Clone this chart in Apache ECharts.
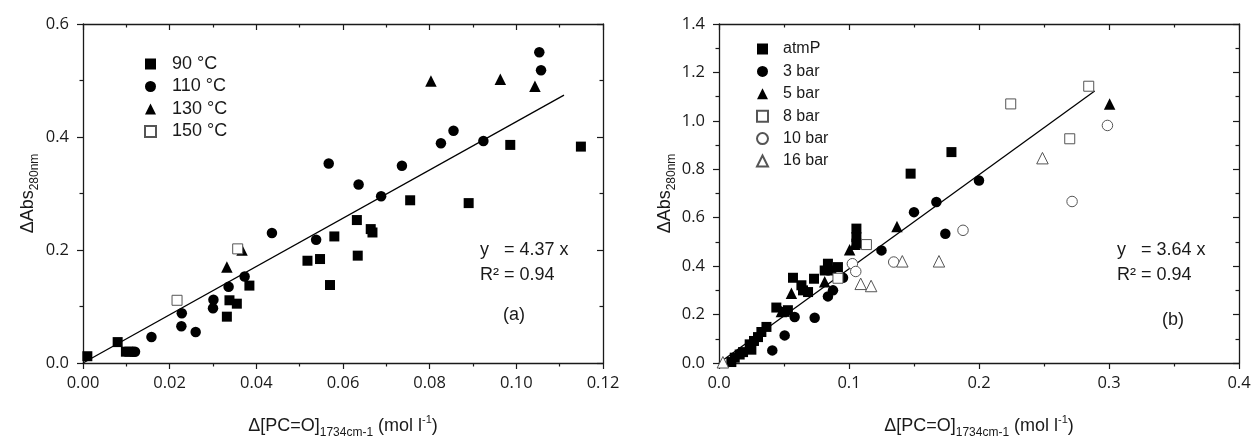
<!DOCTYPE html>
<html>
<head>
<meta charset="utf-8">
<script src="https://cdn.jsdelivr.net/npm/echarts@6/dist/echarts.min.js"></script>
<style>
html,body{margin:0;padding:0;background:#fff;}
#c{width:1252px;height:436px;}
</style>
</head>
<body>
<div id="c"></div>
<script>
// ---------- Panel (a) data: [x, y] ----------
const a90 = [[0.001,0.012],[0.008,0.037],[0.0099,0.020],[0.0107,0.020],[0.0332,0.082],[0.0338,0.111],[0.0355,0.105],[0.0384,0.137],[0.0518,0.181],[0.0547,0.184],[0.0570,0.138],[0.0580,0.224],[0.0632,0.253],[0.0634,0.190],[0.0664,0.237],[0.0668,0.231],[0.0755,0.288],[0.0890,0.283],[0.0986,0.386],[0.1149,0.383]];
const a110 = [[0.0114,0.020],[0.0120,0.020],[0.0158,0.046],[0.0227,0.065],[0.0228,0.088],[0.0260,0.055],[0.0300,0.097],[0.0301,0.112],[0.0336,0.135],[0.0373,0.153],[0.0436,0.230],[0.0538,0.218],[0.0567,0.353],[0.0636,0.316],[0.0688,0.295],[0.0736,0.349],[0.0826,0.389],[0.0855,0.411],[0.0924,0.393],[0.1053,0.550],[0.1057,0.518]];
const a130 = [[0.0332,0.170],[0.0367,0.200],[0.0803,0.499],[0.0963,0.502],[0.1043,0.490]];
const a150 = [[0.0217,0.111],[0.0357,0.202]];
const aFit = [[0.0,0.0],[0.111,0.474]];
const aNames = ['90 °C','110 °C','130 °C','150 °C'];

// ---------- Panel (b) data: [x, y] ----------
const bAtm = [[0.0095,0.004],[0.0121,0.022],[0.0159,0.035],[0.0185,0.045],[0.0249,0.055],[0.0236,0.077],[0.0269,0.091],[0.0300,0.107],[0.0326,0.128],[0.0365,0.149],[0.0441,0.229],[0.0505,0.211],[0.0530,0.218],[0.0569,0.352],[0.0634,0.321],[0.0646,0.300],[0.0685,0.293],[0.0731,0.348],[0.0813,0.382],[0.0838,0.410],[0.0864,0.382],[0.0915,0.396],[0.1057,0.555],[0.1057,0.520],[0.1057,0.493],[0.1474,0.782],[0.1788,0.871]];
const b3 = [[0.0410,0.052],[0.0505,0.114],[0.0582,0.190],[0.0736,0.187],[0.0838,0.275],[0.0877,0.300],[0.0954,0.352],[0.1250,0.465],[0.1500,0.623],[0.1672,0.665],[0.1741,0.534],[0.2000,0.754]];
const b5 = [[0.0480,0.213],[0.0557,0.288],[0.0813,0.336],[0.1005,0.468],[0.1045,0.490],[0.1369,0.564],[0.3005,1.070]];
const b8 = [[0.0915,0.350],[0.1134,0.489],[0.2244,1.070],[0.2698,0.926],[0.2844,1.143]];
const b10 = [[0.1026,0.410],[0.1052,0.378],[0.1344,0.417],[0.1877,0.548],[0.2716,0.667],[0.2988,0.981]];
const b16 = [[0.0030,0.003],[0.1090,0.327],[0.1170,0.318],[0.1410,0.420],[0.1692,0.420],[0.2488,0.846]];
const bFit = [[0.0,0.0],[0.289,1.123]];
const bNames = ['atmP','3 bar','5 bar','8 bar','10 bar','16 bar'];

// ---------- Axis ranges / ticks ----------
const aX = {min:0, max:0.12, interval:0.02, digits:2};
const aY = {min:0, max:0.6, interval:0.2, digits:1};
const bX = {min:0, max:0.4, interval:0.1, digits:1};
const bY = {min:0, max:1.4, interval:0.2, digits:1};

const annA = ['y   = 4.37 x','R² = 0.94','(a)'];
const annB = ['y   = 3.64 x','R² = 0.94','(b)'];
const xTitle = '{a|Δ[PC=O]}{s|1734cm-1}{a| (mol l}{p|-1}{a|)}';
const yTitle = '{a|ΔAbs}{s|280nm}';

const INK = '#1a1a1a';
const FONT = 'Liberation Sans, Arial, sans-serif';
const TICKFONT = 'Open Sans, Liberation Sans, sans-serif';

const nameRich = {
  a:{fontSize:18, fontFamily:FONT, color:INK},
  s:{fontSize:12, fontFamily:FONT, color:INK, padding:[14,0,0,0]},
  p:{fontSize:11, fontFamily:FONT, color:INK, padding:[0,0,12,0]}
};

function mainAxis(r, grid, pos, isX, name, gap) {
  return {
    type:'value', gridIndex:grid, position:pos,
    min:r.min, max:r.max, interval:r.interval,
    axisLine:{show:true, onZero:false, lineStyle:{color:INK, width:1.3}},
    axisTick:{show:true, inside:false, length:6, lineStyle:{color:INK, width:1.2}},
    minorTick:{show:true, splitNumber:2, length:3.5, lineStyle:{color:INK, width:1.2}},
    splitLine:{show:false}, minorSplitLine:{show:false},
    axisLabel:{show:true, color:INK, fontSize:16.5, fontFamily:TICKFONT, margin:isX?12:14,
      formatter:v=>v.toFixed(r.digits)},
    name:name, nameLocation:'middle', nameGap:gap, nameRotate:isX?0:90,
    nameTextStyle:{rich:nameRich}
  };
}
function mirrorAxis(r, grid, pos) {
  return {
    type:'value', gridIndex:grid, position:pos,
    min:r.min, max:r.max, interval:r.interval,
    axisLine:{show:true, onZero:false, lineStyle:{color:INK, width:1.3}},
    axisTick:{show:true, inside:true, length:6, lineStyle:{color:INK, width:1.2}},
    minorTick:{show:true, splitNumber:2, length:3.5, lineStyle:{color:INK, width:1.2}},
    splitLine:{show:false}, minorSplitLine:{show:false},
    axisLabel:{show:false}
  };
}

function scatter(name, data, xi, yi, symbol, filled) {
  return {
    type:'scatter', name:name, data:data, xAxisIndex:xi, yAxisIndex:yi,
    symbol:symbol, symbolSize: symbol==='triangle'?11.5:(symbol==='rect'?10:10.5),
    itemStyle: filled ? {color:'#000', borderWidth:0, opacity:1}
                      : {color:'#fff', borderColor:'#555', borderWidth:1, opacity:1},
    emphasis:{disabled:true}, z:3
  };
}
function fitLine(data, xi, yi) {
  return {type:'line', data:data, xAxisIndex:xi, yAxisIndex:yi, showSymbol:false, symbol:'none',
    lineStyle:{color:'#000', width:1.3}, emphasis:{disabled:true}, z:2, silent:true};
}

function annText(lines, x0, y0) {
  return [
    {type:'text', left:x0, top:y0, style:{text:lines[0], font:'18px '+FONT, fill:INK}},
    {type:'text', left:x0, top:y0+25, style:{text:lines[1], font:'18px '+FONT, fill:INK}}
  ];
}

const option = {
  animation:false,
  backgroundColor:'#fff',
  grid:[
    {left:83, top:24, width:520, height:339, containLabel:false, outerBoundsMode:'none'},
    {left:719, top:24, width:520, height:339, containLabel:false, outerBoundsMode:'none'}
  ],
  xAxis:[
    mainAxis(aX,0,'bottom',true,xTitle,50),
    mirrorAxis(aX,0,'top'),
    mainAxis(bX,1,'bottom',true,xTitle,50),
    mirrorAxis(bX,1,'top')
  ],
  yAxis:[
    mainAxis(aY,0,'left',false,yTitle,42),
    mirrorAxis(aY,0,'right'),
    mainAxis(bY,1,'left',false,yTitle,37),
    mirrorAxis(bY,1,'right')
  ],
  legend:[
    {data:aNames, orient:'vertical', left:139, top:50, itemWidth:11, itemHeight:11, itemGap:4.5,
      textStyle:{fontSize:18, fontFamily:FONT, color:INK, padding:[0,0,0,11]}, selectedMode:false},
    {data:bNames, orient:'vertical', left:751, top:36, itemWidth:11, itemHeight:11, itemGap:6.4,
      textStyle:{fontSize:16, fontFamily:FONT, color:INK, padding:[0,0,0,10]}, selectedMode:false}
  ],
  series:[
    fitLine(aFit,0,0),
    scatter(aNames[0],a90,0,0,'rect',true),
    scatter(aNames[1],a110,0,0,'circle',true),
    scatter(aNames[2],a130,0,0,'triangle',true),
    scatter(aNames[3],a150,0,0,'rect',false),
    fitLine(bFit,2,2),
    scatter(bNames[0],bAtm,2,2,'rect',true),
    scatter(bNames[1],b3,2,2,'circle',true),
    scatter(bNames[2],b5,2,2,'triangle',true),
    scatter(bNames[3],b8,2,2,'rect',false),
    scatter(bNames[4],b10,2,2,'circle',false),
    scatter(bNames[5],b16,2,2,'triangle',false)
  ],
  graphic: [].concat(
    annText(annA, 480, 241),
    [{type:'text', left:503, top:306, style:{text:annA[2], font:'18px '+FONT, fill:INK}}],
    annText(annB, 1117, 241),
    [{type:'text', left:1162, top:311, style:{text:annB[2], font:'18px '+FONT, fill:INK}}]
  )
};

const chart = echarts.init(document.getElementById('c'), null, {renderer:'canvas'});
chart.setOption(option);
</script>
</body>
</html>
